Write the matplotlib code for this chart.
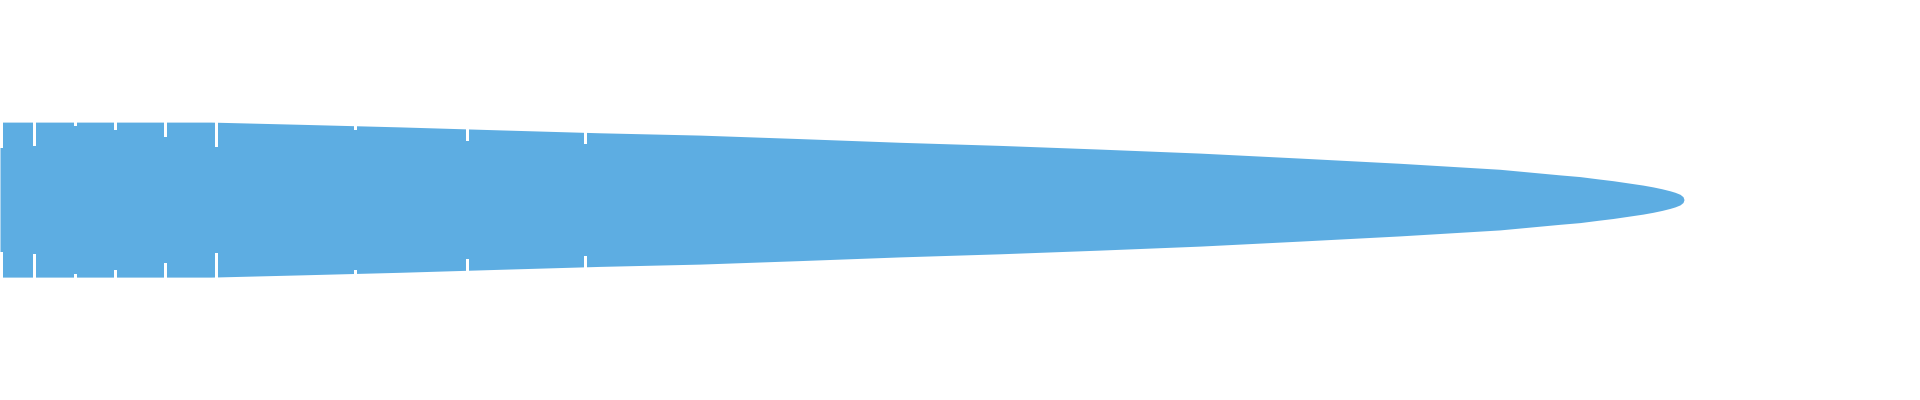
import numpy as np
import matplotlib
matplotlib.use("Agg")
import matplotlib.pyplot as plt

# Profile of the shape (pixel units, y grows downwards)
x_pos = [0, 211, 300, 400, 500, 600, 700, 800, 900, 1000, 1100, 1200,
         1300, 1400, 1500, 1560, 1580, 1598, 1613, 1628, 1643, 1653, 1662,
         1670, 1675, 1680, 1683, 1684]
half_width = [77.5, 77.5, 75.3, 72.7, 69.7, 66.8, 64.5, 61.0, 57.3, 54.2, 50.5, 46.5,
              41.5, 36.3, 30.3, 24.7, 23.0, 20.7, 18.9, 16.7, 14.5, 12.7, 10.8,
              8.8, 7.3, 5.3, 2.9, 0.0]
center_y = 199.6

# White separators near the left end: position and how far they reach in from each edge
sep_pos = [0.5, 33.5, 74.5, 114.5, 164.5, 215.5, 354.5, 466.5, 584.5]
sep_len = [25, 23, 3, 7, 14, 24, 3, 11, 11]

BLUE = '#5DADE2'

fig = plt.figure(figsize=(19.2, 4.0), dpi=100)
ax = fig.add_axes([0, 0, 1, 1])
ax.set_xlim(0, 1920)
ax.set_ylim(400, 0)
ax.axis('off')

x = np.array(x_pos, dtype=float)
h = np.array(half_width)
ax.fill_between(x, center_y - h, center_y + h, color=BLUE, linewidth=0,
                antialiased=False)

# separators start at the shape's edge at that position
top_at = center_y - np.interp(sep_pos, x, h)
bot_at = center_y + np.interp(sep_pos, x, h)
sl = np.array(sep_len)
ax.vlines(sep_pos, top_at, top_at + sl, color='white', linewidth=0.9, antialiased=False)
ax.vlines(sep_pos, bot_at - sl, bot_at, color='white', linewidth=0.9, antialiased=False)

fig.savefig('out.png', dpi=100, facecolor='white')
